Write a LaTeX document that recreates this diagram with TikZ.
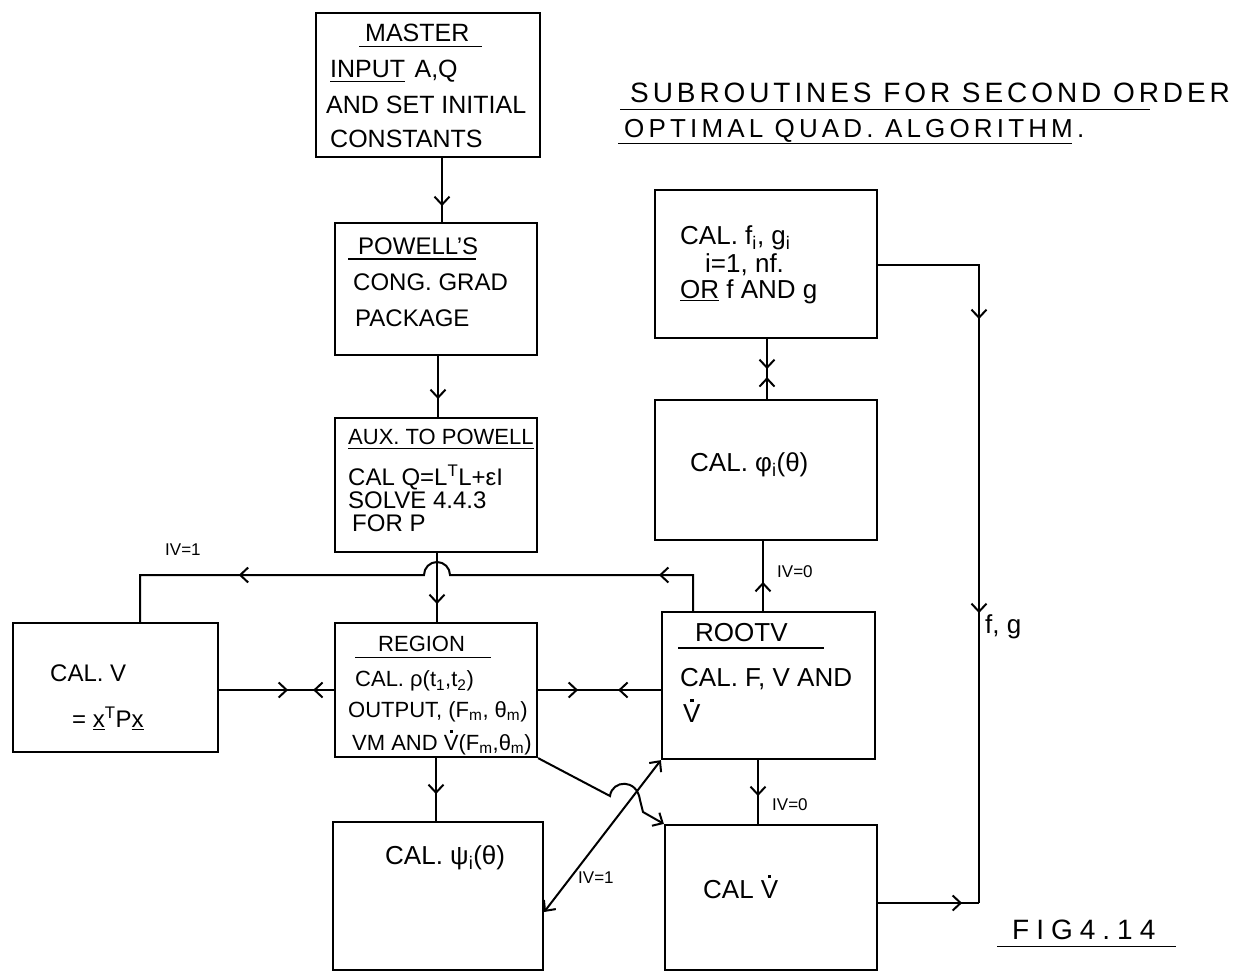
\documentclass[tikz,border=0pt]{standalone}
\usepackage{fontspec}
\setmainfont{Liberation Sans}
\newfontfamily\titlefont[LetterSpace=14]{Liberation Sans}
\newfontfamily\subtitlefont[LetterSpace=16]{Liberation Sans}
\newfontfamily\figfont[LetterSpace=25]{Liberation Sans}
\usetikzlibrary{arrows.meta,decorations.markings,calc}
\newcommand\Vdt{\ooalign{V\cr\hidewidth\raisebox{0.8em}{\rule{0.13em}{0.13em}}\hidewidth\cr}}
\tikzset{
  box/.style={draw, line width=2.2pt, inner sep=0pt},
  conn/.style={line width=2pt},
  arrowat/.style={postaction={decorate,decoration={markings,mark=at position #1 with {\arrow{Straight Barb[length=8pt,width=15pt,line width=2pt]}}}}},
  revat/.style={postaction={decorate,decoration={markings,mark=at position #1 with {\arrowreversed{Straight Barb[length=8pt,width=15pt,line width=2pt]}}}}},
  txt/.style={anchor=west, inner sep=0pt, font=\fontsize{22}{26}\selectfont},
  big/.style={txt, font=\fontsize{24}{28}\selectfont},
  huge/.style={txt, font=\fontsize{26}{30}\selectfont},
  mst/.style={txt, font=\fontsize{25}{28}\selectfont},
  lbl/.style={txt, font=\fontsize{17}{20}\selectfont},
  uline/.style={line width=1.6pt},
}
\begin{document}
\begin{tikzpicture}[x=1pt,y=-1pt]
\fill[white] (0,0) rectangle (1256,979);
\useasboundingbox (0,0) rectangle (1256,979);

% boxes
\node[box, minimum width=224pt, minimum height=144pt] (master) at (428,85) {};
\node[box, minimum width=202pt, minimum height=132pt] (powell) at (436,289) {};
\node[box, minimum width=202pt, minimum height=134pt] (aux) at (436,485) {};
\node[box, minimum width=205pt, minimum height=129pt] (calv) at (115.5,687.5) {};
\node[box, minimum width=202pt, minimum height=134pt] (region) at (436,690) {};
\node[box, minimum width=213pt, minimum height=147pt] (rootv) at (768.5,685.5) {};
\node[box, minimum width=222pt, minimum height=148pt] (fi) at (766,264) {};
\node[box, minimum width=222pt, minimum height=140pt] (phi) at (766,470) {};
\node[box, minimum width=210pt, minimum height=148pt] (psi) at (438,896) {};
\node[box, minimum width=212pt, minimum height=145pt] (vdot) at (771,897.5) {};

% master text
\node[mst] (m1) at (365,33) {MASTER};
\node[mst] (m2) at (330,69) {INPUT};
\node[mst, anchor=base west] (m2b) at ([xshift=9pt]m2.base east) {A,Q};
\node[mst] (m3) at (326,105) {AND SET INITIAL};
\node[mst] (m4) at (330,139) {CONSTANTS};
\draw[uline] ([xshift=-6pt,yshift=-5pt]m1.base west) -- ([xshift=12pt,yshift=-5pt]m1.base east);
\draw[uline] ([yshift=-4pt]m2.base west) -- ([yshift=-4pt]m2.base east);

% powell text
\node[big] (p1) at (358,246) {POWELL'S};
\node[big] (p2) at (353,282) {CONG. GRAD};
\node[big] (p3) at (355,318) {PACKAGE};
\draw[uline] ([xshift=-10pt,yshift=-5pt]p1.base west) -- ([xshift=-2pt,yshift=-5pt]p1.base east);

% aux text
\node[txt] (a1) at (348,437) {AUX. TO POWELL};
\node[big] (a2) at (348,477) {CAL Q=L\textsuperscript{T}L+εI};
\node[big] (a3) at (348,500) {SOLVE 4.4.3};
\node[big] (a4) at (352,523) {FOR P};
\draw[uline] ([yshift=-4pt]a1.base west) -- ([yshift=-4pt]a1.base east);

% region text
\node[txt] (r1) at (378,644) {REGION};
\node[txt] (r2) at (355,681) {CAL. ρ(t\textsubscript{1},t\textsubscript{2})};
\node[txt] (r3) at (348,712) {OUTPUT, (F\textsubscript{m}, θ\textsubscript{m})};
\node[txt] (r4) at (352,745) {VM AND \Vdt(F\textsubscript{m},θ\textsubscript{m})};
\draw[uline] ([xshift=-23pt,yshift=-6pt]r1.base west) -- ([xshift=26pt,yshift=-6pt]r1.base east);

% rootv text
\node[huge] (v1) at (695,633) {ROOTV};
\node[huge] (v2) at (680,679) {CAL. F, V AND};
\node[huge] (v3) at (683,714) {\Vdt};
\draw[uline] ([xshift=-17pt,yshift=-6pt]v1.base west) -- ([xshift=36pt,yshift=-6pt]v1.base east);

% fi text
\node[huge] (f1) at (680,238) {CAL. f\textsubscript{i}, g\textsubscript{i}};
\node[huge] (f2) at (705,265) {i=1, nf.};
\node[huge] (f3) at (680,292) {\underline{OR} f AND g};

% other box texts
\node[huge] (ph) at (690,465) {CAL. φ\textsubscript{i}(θ)};
\node[big] (cv1) at (50,673) {CAL. V};
\node[big] (cv2) at (72,718) {= \underline{x}\textsuperscript{T}P\underline{x}};
\node[huge] (ps) at (385,858) {CAL. ψ\textsubscript{i}(θ)};
\node[huge] (vd) at (703,890) {CAL \Vdt};

% title
\node[txt, font=\fontsize{28}{32}\selectfont\titlefont] (t1) at (630,93) {SUBROUTINES FOR SECOND ORDER};
\node[txt, font=\fontsize{26}{30}\selectfont\subtitlefont] (t2) at (624,131) {OPTIMAL QUAD. ALGORITHM.};
\draw[uline] ([xshift=-10pt,yshift=-7pt]t1.base west) -- ([xshift=-80pt,yshift=-7pt]t1.base east);
\draw[uline] ([xshift=-6pt,yshift=-6pt]t2.base west) -- ([xshift=-12pt,yshift=-6pt]t2.base east);

% figure label
\node[txt, font=\fontsize{28}{32}\selectfont\figfont] (fig) at (1012,930) {FIG4.14};
\draw[uline] ([xshift=-15pt,yshift=-7pt]fig.base west) -- ([xshift=20pt,yshift=-7pt]fig.base east);

% connector labels
\node[lbl] (l1) at (165,550) {IV=1};
\node[lbl] (l2) at (777,572) {IV=0};
\node[lbl] (l3) at (772,805) {IV=0};
\node[lbl] (l4) at (578,878) {IV=1};
\node[huge] (l5) at (985,627) {f, g};

% helper coordinates
\coordinate (cA) at (442,0);
\coordinate (cB) at (438,0);
\coordinate (cC) at (437,0);
\coordinate (cD) at (436,0);
\coordinate (cR) at (693,575);
\coordinate (cL) at (140,575);
\coordinate (hy) at (0,690);
\coordinate (cE) at (763,0);
\coordinate (cF) at (767,0);
\coordinate (cG) at (758,0);
\coordinate (dP) at (543,912);
\coordinate (rt) at (979,265);
\coordinate (rb) at (979,903);

% connectors
\draw[conn, arrowat=48pt] (master.south -| cA) -- (powell.north -| cA);
\draw[conn, arrowat=43pt] (powell.south -| cB) -- (aux.north -| cB);
\draw[conn, arrowat=51pt] (aux.south -| cC) -- (region.north -| cC);
\draw[conn, arrowat=70pt, arrowat=505pt] (rootv.north -| cR) -- (cR) -- (450,575)
   arc[start angle=0, end angle=180, radius=13pt] -- (cL) -- (calv.north -| cL);
\draw[conn, arrowat=69pt, revat=94pt] (calv.east |- hy) -- (region.west |- hy);
\draw[conn, arrowat=40pt, revat=80pt] (region.east |- hy) -- (rootv.west |- hy);
\draw[conn, arrowat=36pt] (region.south -| cD) -- (psi.north -| cD);
\draw[conn, -{Straight Barb[length=8pt,width=15pt,line width=2pt]}] (region.south east) -- (610,796)
   .. controls (612,780) and (637,778) .. (640,800) -- (643,812) -- (vdot.north west);
\draw[conn, {Straight Barb[length=8pt,width=15pt,line width=2pt]}-{Straight Barb[length=8pt,width=15pt,line width=2pt]}] (psi.east |- dP) -- (rootv.south west);
\draw[conn, arrowat=29pt] (rootv.north -| cE) -- (phi.south -| cE);
\draw[conn, arrowat=30pt, revat=38pt] (fi.south -| cF) -- (phi.north -| cF);
\draw[conn, arrowat=36pt] (rootv.south -| cG) -- (vdot.north -| cG);
\draw[conn, arrowat=155pt, arrowat=449pt] (fi.east |- rt) -- (rt) -- (rb);
\draw[conn, arrowat=84pt] (vdot.east |- rb) -- (rb);
\end{tikzpicture}
\end{document}
